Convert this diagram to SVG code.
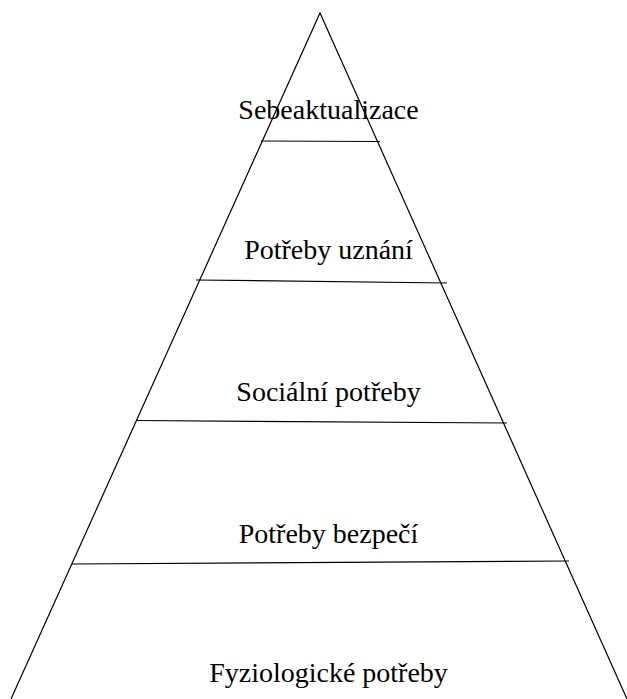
<svg xmlns="http://www.w3.org/2000/svg" width="627" height="699" viewBox="0 0 627 699">
<style>
.ln{stroke:#000;stroke-width:1.2;fill:none}
.t{font-family:"Liberation Serif","Times New Roman",serif;font-size:28px;fill:#000;text-anchor:middle}
</style>
<rect width="627" height="699" fill="#fff"/>
<g id="pyramid">
<path class="ln" d="M11,699 L320,13 L627,699"/>
</g>
<g id="connectors">
<line class="ln" x1="261" y1="141" x2="380" y2="141.5"/>
<line class="ln" x1="196" y1="280" x2="447" y2="283"/>
<line class="ln" x1="136" y1="420.5" x2="507" y2="423"/>
<line class="ln" x1="72" y1="564" x2="569" y2="561"/>
</g>
<g id="level5"><text class="t" x="328.5" y="119">Sebeaktualizace</text></g>
<g id="level4"><text class="t" x="328.5" y="259">Potřeby uznání</text></g>
<g id="level3"><text class="t" x="328.5" y="401">Sociální potřeby</text></g>
<g id="level2"><text class="t" x="328.5" y="543">Potřeby bezpečí</text></g>
<g id="level1"><text class="t" x="328.5" y="682">Fyziologické potřeby</text></g>
</svg>
